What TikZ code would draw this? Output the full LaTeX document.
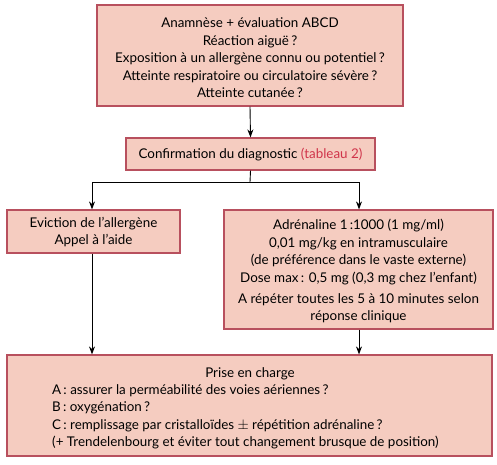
\documentclass[tikz,border=0pt]{standalone}
\usepackage{fontspec}
\setmainfont{Lato}
\usetikzlibrary{arrows.meta}
\definecolor{boxfill}{HTML}{F5CCC0}
\definecolor{boxline}{HTML}{B8505E}
\definecolor{reftxt}{HTML}{D0344A}
\tikzset{
  box/.style={draw=boxline, fill=boxfill, line width=1.2pt, inner sep=0pt, align=center},
  txt/.style={inner sep=0pt, font=\fontsize{13.4}{17.5}\selectfont},
  conn/.style={line width=0.9pt, -{Stealth[length=8pt,width=6pt]}},
  plain/.style={line width=0.9pt}
}
\begin{document}
\begin{tikzpicture}[x=1pt,y=-1pt]
\useasboundingbox (0,0) rectangle (497,464);
\node[box, minimum width=306pt, minimum height=101pt] (top) at (250,55.5) {};
\node[txt, align=center] (toptxt) at (250,58) {Anamnèse + évaluation ABCD\\Réaction aiguë\,?\\Exposition à un allergène connu ou potentiel\,?\\Atteinte respiratoire ou circulatoire sévère\,?\\Atteinte cutanée\,?};
\node[box, minimum width=249pt, minimum height=32pt] (conf) at (250.5,154) {};
\node[txt] (conftxt) at (250.5,154.5) {Confirmation du diagnostic \textcolor{reftxt}{(tableau 2)}};
\node[box, minimum width=173pt, minimum height=43pt] (evic) at (93.5,231.5) {};
\node[txt, align=center] (evictxt) at (93.5,232) {Eviction de l’allergène\\Appel à l’aide};
\node[box, minimum width=269pt, minimum height=119pt] (adr) at (358.5,269.5) {};
\node[txt, align=center] (adrtxt) at (358.5,271) {Adrénaline 1\,:1000 (1 mg/ml)\\0,01 mg/kg en intramusculaire\\(de préférence dans le vaste externe)\\Dose max\,: 0,5 mg (0,3 mg chez l’enfant)\\[3.5pt]A répéter toutes les 5 à 10 minutes selon\\réponse clinique};
\node[box, minimum width=485pt, minimum height=101pt] (pec) at (249.5,405.5) {};
\node[txt] (pectitle) at (250,374) {Prise en charge};
\node[txt, align=left, anchor=north west] (pecbody) at (52,384) {A\,: assurer la perméabilité des voies aériennes\,?\\B\,: oxygénation\,?\\C\,: remplissage par cristalloïdes $\pm$ répétition adrénaline\,?\\(+ Trendelenbourg et éviter tout changement brusque de position)};
\coordinate (split) at (250,182);
\coordinate (sl) at (92,182);
\coordinate (sr) at (359,182);
\draw[conn] (top.south) -- (conf.north);
\draw[plain] (conf.south) -- (split);
\draw[plain] (sl) -- (sr);
\draw[conn] (sl) -- (sl |- evic.north);
\draw[conn] (sr) -- (sr |- adr.north);
\draw[conn] (sl |- evic.south) -- (sl |- pec.north);
\draw[conn] (sr |- adr.south) -- (sr |- pec.north);
\end{tikzpicture}
\end{document}
